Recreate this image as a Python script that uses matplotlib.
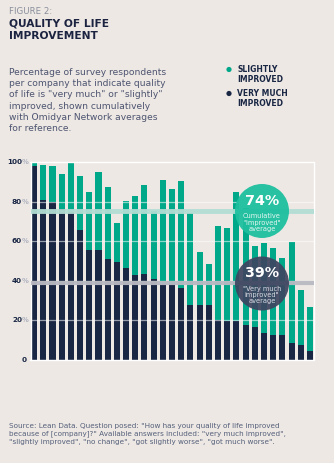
import numpy as np
import matplotlib.pyplot as plt
from matplotlib.patches import Circle

# values (percent of respondents per company)
very_much = [98, 81, 80, 76.5, 75, 65.5, 55.7, 55.7, 51, 49.3, 46.6, 43, 43.5, 40.8,
             38.5, 38.5, 36.5, 27.7, 27.7, 27.7, 20, 19.3, 19.3, 17.6, 16.5, 13.5,
             12.5, 12.5, 8.4, 7.4, 4.3]
total_improved = [100, 98.5, 98, 94, 100, 93, 85.2, 95, 87.8, 69.5, 80.7, 83.2, 88.8, 75.5,
                  91.3, 86.8, 90.8, 74.6, 54.7, 48.6, 67.9, 66.9, 85.2, 77, 57.8, 59.3,
                  56.7, 51.7, 59.8, 35.4, 26.7]
slightly = [t - v for t, v in zip(total_improved, very_much)]
avg_cumulative = 74
avg_very_much = 39
yticks = [0, 20, 40, 60, 80, 100]

BG = '#ede8e4'
NAVY = '#1a2744'
GREEN = '#00a88a'
TEXT = '#4d5470'

fig = plt.figure(figsize=(3.34, 4.63), dpi=100, facecolor=BG)
W, H = 334, 463

def fx(px):
    return px / W

def fy(py):
    return 1 - py / H

ax = fig.add_axes([fx(30.5), fy(359.5), (313.5 - 30.5) / W, (359.5 - 162.5) / H])
ax.set_facecolor(BG)
x = np.arange(len(very_much))
ax.bar(x, very_much, width=0.66, color=NAVY, zorder=2)
ax.bar(x, slightly, bottom=very_much, width=0.66, color=GREEN, zorder=2)
ax.set_xlim(-0.39, len(x) - 1 + 0.38)
ax.set_ylim(0, 100)

for g in [20, 40, 60, 80]:
    ax.axhline(g, color='white', lw=0.9, alpha=0.55, zorder=3)
# average bands (the 74% band sits a touch above its value in the original)
ax.axhline(avg_cumulative + 1.2, color='#b3ddd4', lw=3.5, alpha=0.95, zorder=3)
ax.axhline(avg_very_much, color='#b9b9c2', lw=3.0, alpha=0.95, zorder=3)

for s in ax.spines.values():
    s.set_color('white')
    s.set_linewidth(1.0)
ax.set_xticks([])
ax.set_yticks(yticks)
ax.set_yticklabels([])
ax.tick_params(axis='y', length=0)
for v in yticks:
    ypx = 359.5 - v * 1.97
    if v == 0:
        fig.text(fx(27), fy(ypx), '0', ha='right', va='center', fontsize=5.2,
                 fontweight='bold', color=NAVY)
    else:
        fig.text(fx(22), fy(ypx), str(v), ha='right', va='center', fontsize=5.2,
                 fontweight='bold', color=NAVY)
        fig.text(fx(22), fy(ypx), '%', ha='left', va='center', fontsize=5.2,
                 color='#9aa0b4')

# average bubbles
c1 = Circle((262 / 100, (H - 211) / 100), 0.27, transform=fig.dpi_scale_trans,
            facecolor='#1dbf9f', alpha=0.95, edgecolor='none', zorder=5)
c2 = Circle((262 / 100, (H - 283.5) / 100), 0.27, transform=fig.dpi_scale_trans,
            facecolor='#3d4660', alpha=0.93, edgecolor='none', zorder=5)
fig.patches.extend([c1, c2])
fig.text(fx(262), fy(201), '74%', ha='center', va='center', fontsize=10.3,
         fontweight='bold', color='white', zorder=6)
fig.text(fx(262), fy(222.5), 'Cumulative\n"improved"\naverage', ha='center', va='center',
         fontsize=4.8, color='#e4f6f1', linespacing=1.0, zorder=6)
fig.text(fx(262), fy(273), '39%', ha='center', va='center', fontsize=10.3,
         fontweight='bold', color='white', zorder=6)
fig.text(fx(262), fy(294.5), '"Very much\nimproved"\naverage', ha='center', va='center',
         fontsize=4.8, color='#d8dbe4', linespacing=1.0, zorder=6)

# header text
fig.text(fx(9), fy(11), 'FIGURE 2:', ha='left', va='center', fontsize=6.2,
         color='#8a8f9c')
fig.text(fx(9), fy(30), 'QUALITY OF LIFE\nIMPROVEMENT', ha='left', va='center',
         fontsize=7.7, fontweight='bold', color='#1c2340', linespacing=1.3)
fig.text(fx(9), fy(100.5), 'Percentage of survey respondents\nper company that indicate quality\n'
         'of life is "very much" or "slightly"\nimproved, shown cumulatively\n'
         'with Omidyar Network averages\nfor reference.', ha='left', va='center',
         fontsize=6.6, color=TEXT, linespacing=1.32)

# legend
fig.patches.append(Circle((229 / 100, (H - 69.5) / 100), 0.026, transform=fig.dpi_scale_trans,
                          facecolor=GREEN, edgecolor='none'))
fig.patches.append(Circle((229 / 100, (H - 93.5) / 100), 0.026, transform=fig.dpi_scale_trans,
                          facecolor=NAVY, edgecolor='none'))
fig.text(fx(237), fy(74.5), 'SLIGHTLY\nIMPROVED', ha='left', va='center', fontsize=5.5,
         fontweight='bold', color=NAVY, linespacing=1.0)
fig.text(fx(237), fy(98.5), 'VERY MUCH\nIMPROVED', ha='left', va='center', fontsize=5.5,
         fontweight='bold', color=NAVY, linespacing=1.0)

# footer
fig.text(fx(9), fy(434), 'Source: Lean Data. Question posed: "How has your quality of life improved\n'
         'because of [company]?" Available answers included: "very much improved",\n'
         '"slightly improved", "no change", "got slightly worse", "got much worse".',
         ha='left', va='center', fontsize=5.2, color='#55607a', linespacing=1.3)

fig.savefig('out.png', dpi=100, facecolor=BG)
